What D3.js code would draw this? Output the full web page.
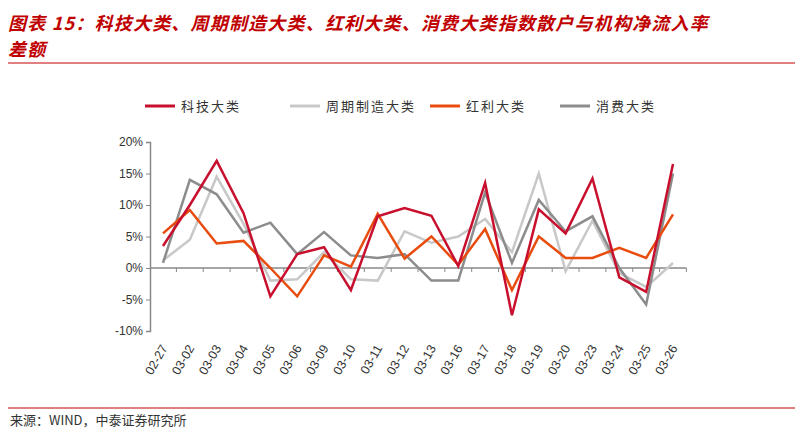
<!DOCTYPE html><html><head><meta charset="utf-8"><script src="https://cdn.jsdelivr.net/npm/d3@7"></script>
<style>body{margin:0;background:#fff}</style></head><body><svg id="c" width="803" height="433"></svg><script>
const categories=["02-27","03-02","03-03","03-04","03-05","03-06","03-09","03-10","03-11","03-12","03-13","03-16","03-17","03-18","03-19","03-20","03-23","03-24","03-25","03-26"];
const tech=[3.5,10,17,8.7,-4.5,2.2,3.3,-3.5,8.2,9.5,8.3,0.3,13.5,-7.5,9.3,5.5,14.2,-1.5,-3.8,16.5];
const cyclical=[1.2,4.5,14.5,7,-2,-1.8,2.5,-1.8,-2,5.8,4,5,7.8,2.5,15,-0.5,7.5,-0.8,-3,0.8];
const dividend=[5.5,9.2,3.9,4.3,0,-4.5,2,0.2,8.6,1.5,5,0.5,6.2,-3.5,5,1.6,1.6,3.2,1.6,8.5];
const consumer=[0.8,14,11.7,5.6,7.2,2.2,5.7,2,1.6,2.2,-2,-2,12,0.8,10.8,5.8,8.2,0,-5.8,15];
const yTicks=[20,15,10,5,0,-5,-10];
const series=[{name:"科技大类",v:tech,c:"#c8102e"},{name:"周期制造大类",v:cyclical,c:"#c8c8c8"},{name:"红利大类",v:dividend,c:"#e84c0e"},{name:"消费大类",v:consumer,c:"#8c8c8c"}];
const svg=d3.select("#c"),F="'Noto Sans CJK SC',sans-serif";
svg.append("text").attr("x",8).attr("y",30).attr("fill","#c00000").attr("font-size",18).attr("letter-spacing",1.2).attr("font-weight","bold").attr("font-style","italic").attr("font-family",F).text("图表 15：科技大类、周期制造大类、红利大类、消费大类指数散户与机构净流入率");
svg.append("text").attr("x",8).attr("y",56).attr("fill","#c00000").attr("font-size",18).attr("letter-spacing",1.2).attr("font-weight","bold").attr("font-style","italic").attr("font-family",F).text("差额");
svg.append("line").attr("x1",8).attr("x2",795).attr("y1",63).attr("y2",63).attr("stroke","#c00000").attr("stroke-width",1);
svg.append("line").attr("x1",8).attr("x2",795).attr("y1",408).attr("y2",408).attr("stroke","#c00000").attr("stroke-width",1);
svg.append("text").attr("x",10).attr("y",425).attr("font-size",13).attr("fill","#333").attr("font-family",F).text("来源：WIND，中泰证券研究所");
const x=d3.scalePoint().domain(categories).range([163,673]).padding(0);
const y=d3.scaleLinear().domain([-10,20]).range([331,142]);
const step=x.step();
const ya=svg.append("g").attr("transform","translate(150,0)").call(d3.axisLeft(y).tickValues(yTicks).tickFormat(d=>d+"%").tickSize(4));
ya.select(".domain").attr("stroke","#888").attr("stroke-width",1.5);ya.selectAll("line").attr("stroke","#888");
ya.selectAll("text").attr("font-size",12).attr("fill","#333").attr("font-family","Arial");
const g0=svg.append("g");
g0.append("line").attr("x1",150).attr("x2",x(categories[19])+step/2).attr("y1",y(0)).attr("y2",y(0)).attr("stroke","#888").attr("stroke-width",1.5);
categories.forEach((c,i)=>{const xx=x(c)+step/2;g0.append("line").attr("x1",xx).attr("x2",xx).attr("y1",y(0)).attr("y2",y(0)+4).attr("stroke","#888");
g0.append("text").attr("transform",`translate(${x(c)+5},${348}) rotate(-60)`).attr("text-anchor","end").attr("font-size",12.5).attr("fill","#333").attr("font-family","Arial").text(c);});
const line=d3.line().x((d,i)=>x(categories[i])).y(d=>y(d));
[1,3,2,0].forEach(k=>{const s=series[k];svg.append("path").datum(s.v).attr("d",line).attr("fill","none").attr("stroke",s.c).attr("stroke-width",2.5);});
const lx=[145,290,430,560];
series.forEach((s,i)=>{svg.append("line").attr("x1",lx[i]).attr("x2",lx[i]+30).attr("y1",106).attr("y2",106).attr("stroke",s.c).attr("stroke-width",3);
svg.append("text").attr("x",lx[i]+36).attr("y",111).attr("font-size",13).attr("letter-spacing",2).attr("fill","#333").attr("font-family",F).text(s.name);});
</script></body></html>
